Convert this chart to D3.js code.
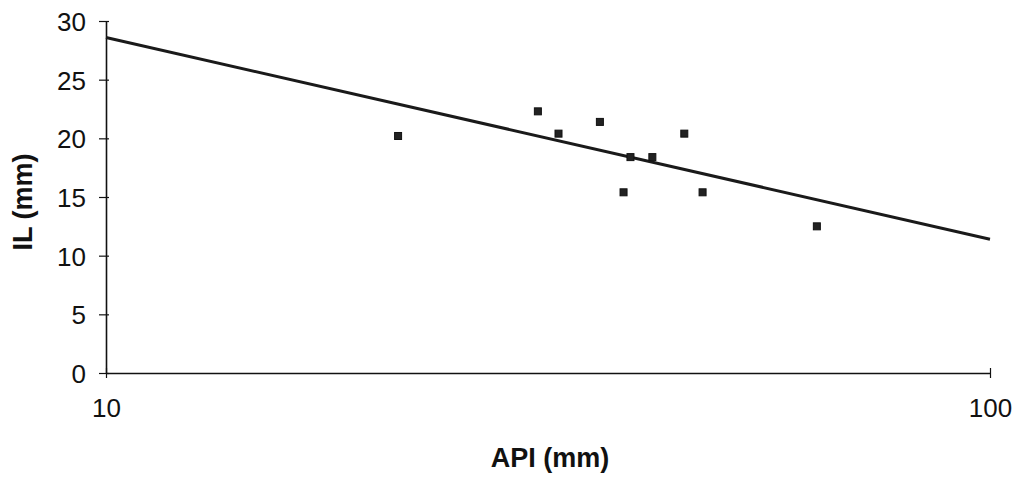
<!DOCTYPE html>
<html>
<head>
<meta charset="utf-8">
<script src="https://cdn.jsdelivr.net/npm/d3@7"></script>
<style>
  body { margin: 0; background: #fff; }
  text { font-family: "Liberation Sans", Arial, sans-serif; fill: #111; }
</style>
</head>
<body>
<script>
// data
var apiValues = [21.4, 30.8, 32.5, 36.2, 39.2, 41.5, 38.5, 45.1, 47.3, 63.7];
var ilValues  = [20.2, 22.3, 20.4, 21.4, 18.4, 18.4, 15.4, 20.4, 15.4, 12.5];
// fitted trend line end points
var trendX = [10, 100];
var trendY = [28.6, 11.4];
var yTicks = [0, 5, 10, 15, 20, 25, 30];
var xTicks = [10, 100];

var W = 1021, H = 479;
var margin = {top: 21, right: 31, bottom: 106, left: 106};
var width = W - margin.left - margin.right,
    height = H - margin.top - margin.bottom;

var svg = d3.select("body").append("svg")
    .attr("width", W)
    .attr("height", H)
  .append("g")
    .attr("transform", "translate(" + margin.left + "," + margin.top + ")");

var xScale = d3.scaleLog().domain([10, 100]).range([0, width]);
var yScale = d3.scaleLinear().domain([0, 30]).range([height, 0]);

// y axis
var yAxis = svg.append("g")
    .call(d3.axisLeft(yScale).tickValues(yTicks).tickSize(7).tickSizeOuter(0).tickPadding(8));
yAxis.select(".domain").attr("stroke", "#111").attr("stroke-width", 1.6);
yAxis.selectAll(".tick line").attr("stroke", "#111").attr("stroke-width", 1.2).attr("x2", -7).attr("x1", 3);
yAxis.selectAll(".tick text").style("font-size", "26px").attr("dy", "0.36em").attr("x", -20);

// x axis
var xAxis = svg.append("g")
    .attr("transform", "translate(0," + height + ")")
    .call(d3.axisBottom(xScale).tickValues(xTicks).tickFormat(d3.format("d")).tickSize(6).tickSizeOuter(0).tickPadding(20));
xAxis.select(".domain").attr("stroke", "#111").attr("stroke-width", 1.6);
xAxis.selectAll(".tick line").attr("stroke", "#111").attr("stroke-width", 1.2).attr("y1", -5).attr("y2", 5);
xAxis.selectAll(".tick text").style("font-size", "26px");

// trend line
var line = d3.line()
    .x(function(d) { return xScale(d[0]); })
    .y(function(d) { return yScale(d[1]); });
svg.append("path")
    .datum(d3.zip(trendX, trendY))
    .attr("d", line)
    .attr("fill", "none")
    .attr("stroke", "#1a1a1a")
    .attr("stroke-width", 3);

// points
var s = 7;
svg.selectAll(".pt")
    .data(d3.zip(apiValues, ilValues))
  .enter().append("rect")
    .attr("class", "pt")
    .attr("x", function(d) { return xScale(d[0]) - s / 2; })
    .attr("y", function(d) { return yScale(d[1]) - s / 2; })
    .attr("width", s)
    .attr("height", s)
    .attr("fill", "#222")
    .attr("stroke", "#111")
    .attr("stroke-width", 1);

// axis titles
svg.append("text")
    .attr("x", 444)
    .attr("y", height + 94)
    .attr("text-anchor", "middle")
    .style("font-size", "27px")
    .style("font-weight", "bold")
    .text("API (mm)");

svg.append("text")
    .attr("transform", "translate(-74," + 181 + ") rotate(-90)")
    .attr("text-anchor", "middle")
    .style("font-size", "27px")
    .style("font-weight", "bold")
    .text("IL (mm)");
</script>
</body>
</html>
